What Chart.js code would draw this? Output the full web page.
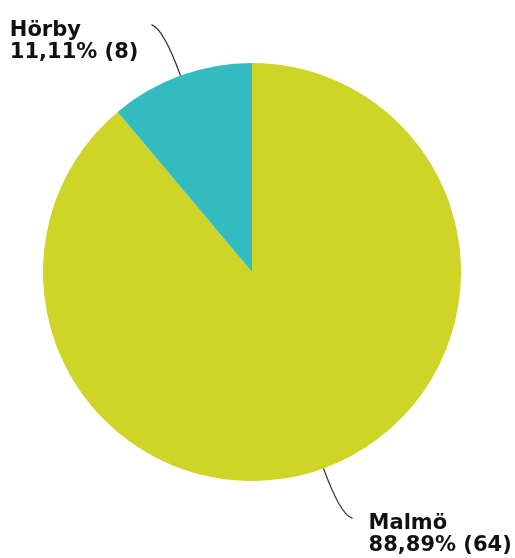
<!DOCTYPE html>
<html>
<head>
<meta charset="utf-8">
<script src="https://cdn.jsdelivr.net/npm/chart.js@4"></script>
<style>
  html, body { margin: 0; padding: 0; background: #fff; }
  #wrap { width: 515px; height: 558px; }
</style>
</head>
<body>
<div id="wrap"><canvas id="pieChart" width="515" height="558"></canvas></div>
<script>
    var labels = ['Malmö', 'Hörby'];
    var counts = [64, 8];
    var colors = ['#cfd429', '#34bbbf'];

    // pct text in swedish style, comma as decimal sep
    function pctText(v, total) {
        return (v / total * 100).toFixed(2).replace('.', ',') + '% (' + v + ')';
    }

    var calloutPlugin = {
        id: 'callouts',
        afterDatasetsDraw: function (chart) {
            var ctx = chart.ctx;
            var meta = chart.getDatasetMeta(0);
            var total = counts.reduce(function (a, b) { return a + b; }, 0);
            ctx.save();
            ctx.font = 'bold 21px "DejaVu Sans"';
            meta.data.forEach(function (arc, i) {
                var p = arc.getProps(['x', 'y', 'startAngle', 'endAngle', 'outerRadius'], true);
                var mid = (p.startAngle + p.endAngle) / 2;
                var dx = Math.cos(mid), dy = Math.sin(mid);
                var sx = p.x + dx * p.outerRadius, sy = p.y + dy * p.outerRadius;
                var cx = sx + dx * 50, cy = sy + dy * 50;
                var right = dx >= 0;
                var ex = cx + (right ? 12 : -12), ey = cy + (dy >= 0 ? 3 : -4);

                ctx.beginPath();
                ctx.moveTo(sx, sy);
                ctx.quadraticCurveTo(cx, cy, ex, ey);
                ctx.strokeStyle = '#333';
                ctx.lineWidth = 1.3;
                ctx.stroke();

                var lines = [labels[i], pctText(counts[i], total)];
                var w = Math.max.apply(null, lines.map(function (t) { return ctx.measureText(t).width; }));
                var tx = right ? ex + 16 : ex - 13 - w;
                ctx.fillStyle = '#111';
                ctx.textAlign = 'left';
                ctx.textBaseline = 'alphabetic';
                lines.forEach(function (t, k) {
                    ctx.fillText(t, tx, ey + 11 + k * 22);
                });
            });
            ctx.restore();
        }
    };

    var ctx = document.getElementById('pieChart').getContext('2d');
    var myChart = new Chart(ctx, {
        type: 'pie',
        data: {
            labels: labels,
            datasets: [{
                data: counts,
                backgroundColor: colors,
                borderWidth: 0
            }]
        },
        options: {
            responsive: false,
            animation: false,
            layout: { padding: { left: 43, right: 54, top: 63, bottom: 77 } },
            plugins: {
                legend: { display: false },
                tooltip: { enabled: false }
            }
        },
        plugins: [calloutPlugin]
    });
</script>
</body>
</html>
